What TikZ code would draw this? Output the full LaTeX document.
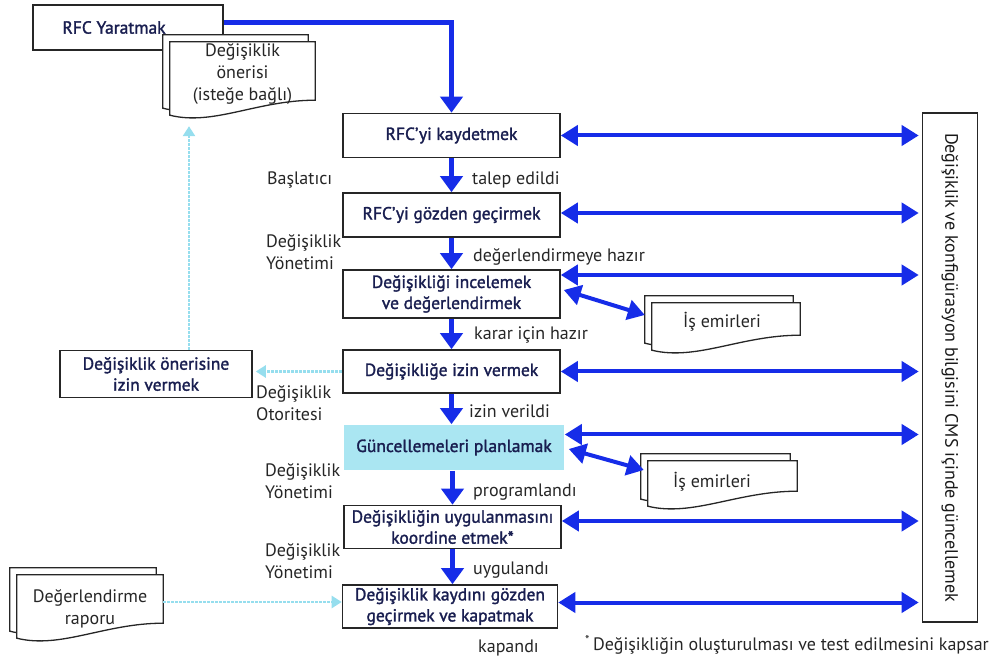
\documentclass[tikz,border=0pt]{standalone}
\usepackage{fontspec}
\setmainfont{PT Sans}
\newfontface\boxfont{PT Sans}[FakeBold=1.6]
\usetikzlibrary{arrows.meta,calc}

\definecolor{flowblue}{RGB}{22,44,232}
\definecolor{navytext}{RGB}{25,30,80}
\definecolor{planfill}{RGB}{170,230,242}
\definecolor{hintcyan}{RGB}{150,222,238}

% stacked paper sheet with a wavy lower edge, drawn around a frame node
\newcommand\paper[3]{%
  \draw[docline] let \p1=(#1.north west), \p2=(#1.south east), \n1={\x2-\x1} in
    (\x1+#2,\y1+#3) -- (\x2+#2,\y1+#3) -- (\x2+#2,\y2+6pt+#3)
    .. controls (\x1+0.6*\n1+#2,\y2+6pt+#3) and (\x1+0.3*\n1+#2,\y2-20pt+#3) ..
    (\x1+#2,\y2-9pt+#3) -- cycle;}

\begin{document}
\begin{tikzpicture}[x=1pt,y=-1pt,
  proc/.style={draw=black!85,line width=1.6pt,fill=white,minimum width=217pt,
    minimum height=44pt,inner sep=2pt,align=center,text=navytext,
    font=\boxfont\fontsize{17.5}{21}\selectfont},
  planbox/.style={proc,draw=none,fill=planfill,minimum width=220pt,minimum height=45pt},
  cmsbox/.style={draw=black!85,line width=1.6pt,fill=white,inner sep=2pt,
    text=black!90,font=\fontsize{18}{20}\selectfont},
  docframe/.style={inner sep=0pt},
  docline/.style={draw=black!85,line width=1.3pt,fill=white},
  doctext/.style={align=center,inner sep=0pt,text=black!85,font=\fontsize{18}{22}\selectfont},
  lbl/.style={anchor=west,align=left,inner sep=0pt,text=black!85,font=\fontsize{18}{22}\selectfont},
  flow/.style={draw=flowblue,line width=5pt,-{Triangle[length=16pt,width=22pt]}},
  link/.style={draw=flowblue,line width=4pt,
    {Triangle[length=17pt,width=20pt]}-{Triangle[length=17pt,width=20pt]}},
  hint/.style={draw=hintcyan,line width=2.5pt,dash pattern=on 3pt off 1pt,
    -{Triangle[length=10pt,width=12pt]}}
]
\useasboundingbox (0,0) rectangle (989,660);

% request creation and the optional change proposal
\node[proc,minimum width=190pt,minimum height=45pt] (rfcy) at (128,27.5) {RFC Yaratmak\hspace*{28pt}};
\node[docframe,minimum width=145pt,minimum height=64pt] (oneri) at (242.5,74) {};
\paper{oneri}{-7pt}{7pt}
\paper{oneri}{0pt}{0pt}
\node[doctext] (oneritxt) at (242.5,74.5) {Değişiklik\\önerisi\\(isteğe bağlı)};

% main process column
\node[proc] (kayit) at (451.5,135.5) {RFC’yi kaydetmek};
\node[proc] (gozden) at (451.5,215) {RFC’yi gözden geçirmek};
\node[proc,minimum height=48pt] (incele) at (451.5,294) {Değişikliği incelemek\\ve değerlendirmek};
\node[proc,minimum height=43pt] (izin) at (451.5,371.5) {Değişikliğe izin vermek};
\node[planbox] (plan) at (454,447.5) {Güncellemeleri planlamak};
\node[proc,minimum height=43pt] (koord) at (452.5,527) {Değişikliğin uygulanmasını\\koordine etmek*};
\node[proc,minimum width=215pt,minimum height=43pt] (kapat) at (450,606.5) {Değişiklik kaydını gözden\\geçirmek ve kapatmak};

% configuration record
\node[cmsbox,rotate=-90,minimum width=509pt,minimum height=55pt] (cms) at (950,367.5)
  {Değişiklik ve konfigürasyon bilgisini CMS içinde güncellemek};

% proposal authorisation
\node[proc,minimum width=192pt,minimum height=47pt] (onizin) at (156,374) {Değişiklik önerisine\\izin vermek};

% work orders
\node[docframe,minimum width=148pt,minimum height=38pt] (is1) at (726,322) {};
\paper{is1}{-7pt}{7pt}
\paper{is1}{0pt}{0pt}
\node[doctext] (is1txt) at (722,322) {İş emirleri};
\node[docframe,minimum width=149pt,minimum height=36pt] (is2) at (722.5,479) {};
\paper{is2}{-7pt}{7pt}
\paper{is2}{0pt}{0pt}
\node[doctext] (is2txt) at (712,482) {İş emirleri};

% evaluation report
\node[docframe,minimum width=146pt,minimum height=54pt] (rapor) at (90,602) {};
\paper{rapor}{-7pt}{7pt}
\paper{rapor}{0pt}{0pt}
\node[doctext] (raportxt) at (90,609) {Değerlendirme\\raporu};

% main flow
\draw[flow] ([yshift=5pt]rfcy.east) -| (kayit.north);
\draw[flow] (kayit.south) -- (gozden.north);
\draw[flow] (gozden.south) -- (incele.north);
\draw[flow] (incele.south) -- (izin.north);
\draw[flow] (izin.south) -- (izin.south |- plan.north);
\draw[flow] (plan.south -| koord.north) -- (koord.north);
\draw[flow] (koord.south) -- (koord.south |- kapat.north);

% updates to the configuration record
\draw[link,shorten >=3pt] (kayit.east) -- (kayit.east -| cms.south);
\draw[link,shorten >=3pt] ([yshift=2pt]gozden.east) -- ([yshift=2pt]gozden.east -| cms.south);
\draw[link,shorten >=3pt] ([yshift=19pt]incele.east) -- ([yshift=19pt]incele.east -| cms.south);
\draw[link,shorten >=3pt] (izin.east) -- (izin.east -| cms.south);
\draw[link,shorten >=3pt] ([yshift=13pt]plan.east) -- ([yshift=13pt]plan.east -| cms.south);
\draw[link,shorten >=3pt] ([yshift=6pt]koord.east) -- ([yshift=6pt]koord.east -| cms.south);
\draw[link,shorten >=3pt] ([yshift=4pt]kapat.east) -- ([yshift=4pt]kapat.east -| cms.south);

% work order exchanges
\draw[link] ([xshift=3pt,yshift=4pt]incele.east) -- ([xshift=-7pt,yshift=7pt]is1.west);
\draw[link] ([xshift=4pt,yshift=-1.5pt]plan.east) -- ([xshift=-4pt,yshift=9pt]is2.west);

% optional inputs
\draw[hint,shorten >=3pt] (izin.west) -- (izin.west -| onizin.east);
\draw[hint,shorten >=20pt] ([xshift=33pt]onizin.north) -- ([xshift=33pt]onizin.north |- oneri.south);
\draw[hint] (rapor.east) -- (rapor.east -| kapat.west);

% roles and states
\node[lbl] (bas) at (267,180) {Başlatıcı};
\node[lbl] (talep) at (472,180) {talep edildi};
\node[lbl] (yon1) at (266,252) {Değişiklik\\Yönetimi};
\node[lbl] (hazir) at (473,257) {değerlendirmeye hazır};
\node[lbl] (karar) at (474,335) {karar için hazır};
\node[lbl] (oto) at (256,403) {Değişiklik\\Otoritesi};
\node[lbl] (verildi) at (469,411) {izin verildi};
\node[lbl] (yon2) at (265,481) {Değişiklik\\Yönetimi};
\node[lbl] (prog) at (473,492) {programlandı};
\node[lbl] (yon3) at (265,561) {Değişiklik\\Yönetimi};
\node[lbl] (uyg) at (473,570) {uygulandı};
\node[lbl] (kapandi) at (478,648) {kapandı};
\node[lbl] (note) at (585,645) {\textsuperscript{*}\,Değişikliğin oluşturulması ve test edilmesini kapsar};
\end{tikzpicture}
\end{document}
